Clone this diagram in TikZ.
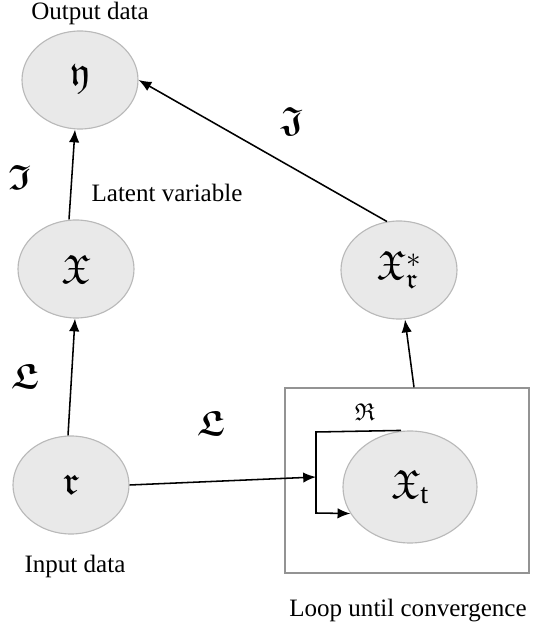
\documentclass[tikz,border=0pt]{standalone}
\usepackage{amsmath}
\usepackage{amssymb}
\DeclareFontFamily{U}{euf}{}
\DeclareFontShape{U}{euf}{m}{n}{<-> eufm10}{}
\DeclareFontShape{U}{euf}{b}{n}{<-> eufb10}{}
\usepackage{fontspec}
\setmainfont{Liberation Serif}
\newfontfamily\capfont{Liberation Serif}
\usetikzlibrary{shapes.geometric,arrows.meta}

\begin{document}
\begin{tikzpicture}[
        var/.style={ellipse, draw=gray!55, line width=0.8pt, fill=gray!17, minimum width=2.9cm, minimum height=2.45cm, inner sep=0pt, font=\fontsize{29}{32}\selectfont},
        txt/.style={font=\capfont\fontsize{17.8}{20}\selectfont},
        sym/.style={font=\fontsize{25}{28}\selectfont},
        loopbox/.style={rectangle, draw=gray!85, line width=1pt, minimum width=6.1cm, minimum height=4.625cm},
        line/.style={draw, line width=1.1pt, ->, >={Latex[length=3.2mm, width=2.6mm]}}
    ]
        \useasboundingbox (0,0) rectangle (13.35,15.75);

        \node[var] (eta) at (2.0, 13.75) {$\mathfrak{y}$};
        \node[var] (lat) at (1.9, 9.025) {$\mathfrak{X}$};
        \node[var] (xin) at (1.775, 3.625) {$\mathfrak{r}$};
        \node[var] (xstar) at (9.975, 9.0) {$\mathfrak{X}^{*}_{\mathfrak{r}}$};

        % Bucle
        \node[loopbox] (box) at (10.175, 3.7375) {};
        \node[var, minimum width=3.35cm, minimum height=2.8cm] (xt) at (10.25, 3.575) {$\mathfrak{X}_{\mathrm{t}}$};
        \coordinate (lpin) at (7.9, 3.825);
        \coordinate (lptop) at (7.9, 4.95);
        \coordinate (lpbot) at (7.9, 2.925);

        \draw[line] ([xshift=-0.175cm]lat.north) -- ([xshift=-0.125cm]eta.south);
        \draw[line] ([xshift=-0.075cm]xin.north) -- ([xshift=-0.025cm]lat.south);
        \draw[line] (xin.east) -- (lpin);
        \draw[line] ([xshift=-0.225cm]xt.north) -- (lptop) -- (lpbot) -- (xt.204);
        \draw[line] ([xshift=0.175cm]box.north) -- ([xshift=0.15cm]xstar.south);
        \draw[line] (xstar.104) -- (eta.east);

        \node[sym] (li) at (0.5, 11.325) {$\boldsymbol{\mathfrak{I}}$};
        \node[sym] (lj) at (7.3, 12.7) {$\boldsymbol{\mathfrak{J}}$};
        \node[sym] (ll1) at (0.625, 6.35) {$\boldsymbol{\mathfrak{L}}$};
        \node[sym] (ll2) at (5.275, 5.175) {$\boldsymbol{\mathfrak{L}}$};
        \node[font=\LARGE] (lr) at (9.125, 5.45) {$\mathfrak{R}$};

        \node[txt] (tout) at (2.25, 15.425) {Output data};
        \node[txt] (tlat) at (4.175, 10.925) {Latent variable};
        \node[txt] (tin) at (1.875, 1.6) {Input data};
        \node[txt] (tloop) at (10.2, 0.475) {Loop until convergence};
    \end{tikzpicture}
\end{document}
